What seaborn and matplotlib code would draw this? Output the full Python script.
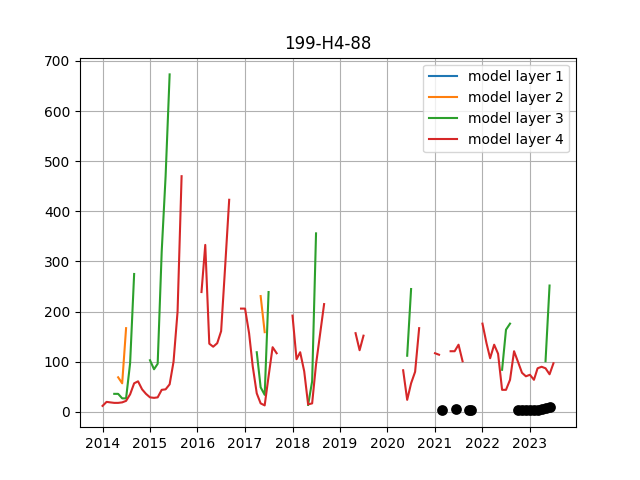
import pandas as pd
import matplotlib
matplotlib.use("Agg")
import matplotlib.pyplot as plt
import seaborn as sns
from matplotlib.lines import Line2D

layer_names = ["model layer 1", "model layer 2", "model layer 3", "model layer 4"]
layer_colors = ["tab:blue", "tab:orange", "tab:green", "tab:red"]

# monthly model heads, one entry per unbroken stretch: first month -> values
layer1 = {}
layer2 = {
    "2014-05": [69, 57, 167],
    "2017-05": [231, 159],
}
layer3 = {
    "2014-04": [36, 36, 27, 27, 97, 275],
    "2015-01": [103, 85, 96, 320, 470, 673],
    "2017-04": [119, 49, 34, 239],
    "2018-05": [14, 61, 356],
    "2020-06": [112, 245],
    "2022-06": [84, 164, 176],
    "2023-05": [101, 252],
}
layer4 = {
    "2014-01": [12, 20, 19, 18, 18, 19, 22, 35, 57, 61, 45, 36,
                29, 28, 29, 44, 45, 55, 100, 200, 470],
    "2016-02": [239, 333, 136, 130, 137, 161, 290, 423],
    "2016-12": [206, 206, 157, 91, 37, 17, 13, 71, 129, 117],
    "2018-01": [192, 105, 119, 81, 15, 17, 95, 155, 215],
    "2019-05": [157, 123, 152],
    "2020-05": [83, 24, 57, 80, 167],
    "2021-01": [117, 114],
    "2021-05": [121, 121, 134, 101],
    "2022-01": [176, 137, 107, 134, 116, 44, 44, 64, 121, 100, 78, 71,
                74, 64, 87, 90, 87, 75, 97],
}

# measured heads
obs_dates = ["2021-02-20", "2021-06-08", "2021-09-20", "2021-10-08",
             "2022-10-01", "2022-11-01", "2022-12-01", "2023-01-01",
             "2023-02-01", "2023-03-01", "2023-04-01", "2023-05-01",
             "2023-06-08"]
obs_values = [3, 5, 3, 3, 3, 3, 3, 3, 4, 4, 5, 7, 9]


def to_frame(segments, name):
    parts = []
    for k, (start, vals) in enumerate(segments.items()):
        dates = pd.date_range(start, periods=len(vals), freq="MS")
        parts.append(pd.DataFrame({"date": dates, "head": vals,
                                   "layer": name, "segment": f"{name}-{k}"}))
    return parts


frames = []
for segs, name in zip([layer1, layer2, layer3, layer4], layer_names):
    frames += to_frame(segs, name)
lines = pd.concat(frames, ignore_index=True)

fig, ax = plt.subplots(figsize=(6.4, 4.8), dpi=100)
sns.lineplot(data=lines, x="date", y="head", hue="layer", units="segment",
             estimator=None, hue_order=layer_names, palette=layer_colors,
             linewidth=1.5, legend=False, ax=ax)
sns.scatterplot(x=pd.to_datetime(obs_dates), y=obs_values, color="black",
                s=60, linewidth=0, zorder=3, ax=ax)

handles = [Line2D([], [], color=c, linewidth=1.5) for c in layer_colors]
ax.legend(handles, layer_names, loc="upper right")
ax.grid(True)
ax.set_xlabel("")
ax.set_ylabel("")
ax.set_title("199-H4-88")

fig.savefig("out.png", dpi=100)
